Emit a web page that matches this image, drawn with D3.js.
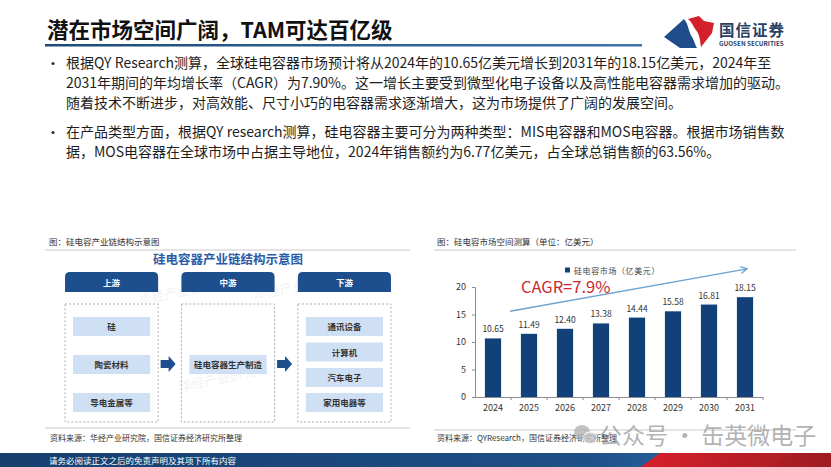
<!DOCTYPE html>
<html>
<head>
<meta charset="utf-8">
<script src="https://cdn.jsdelivr.net/npm/d3@7/dist/d3.min.js"></script>
<style>
  html, body { margin: 0; padding: 0; background: #fff; }
  svg { display: block; }
  text { font-family: "Microsoft YaHei", "Noto Sans CJK SC", "Noto Sans", sans-serif; }
</style>
</head>
<body>
<div id="slide"></div>
<script>
// ---- data ----
var years = ["2024", "2025", "2026", "2027", "2028", "2029", "2030", "2031"];
var marketValues = [10.65, 11.49, 12.40, 13.38, 14.44, 15.58, 16.81, 18.15];
var yTicks = [0, 5, 10, 15, 20];
var legendLabel = "硅电容市场（亿美元）";
var cagrLabel = "CAGR=7.9%";

var slideTitle = "潜在市场空间广阔，TAM可达百亿级";
var bullets = [
  ["根据QY Research测算，全球硅电容器市场预计将从2024年的10.65亿美元增长到2031年的18.15亿美元，2024年至",
   "2031年期间的年均增长率（CAGR）为7.90%。这一增长主要受到微型化电子设备以及高性能电容器需求增加的驱动。",
   "随着技术不断进步，对高效能、尺寸小巧的电容器需求逐渐增大，这为市场提供了广阔的发展空间。"],
  ["在产品类型方面，根据QY research测算，硅电容器主要可分为两种类型：MIS电容器和MOS电容器。根据市场销售数",
   "据，MOS电容器在全球市场中占据主导地位，2024年销售额约为6.77亿美元，占全球总销售额的63.56%。"]
];

var stages = ["上游", "中游", "下游"];
var stageItems = [
  ["硅", "陶瓷材料", "导电金属等"],
  ["硅电容器生产制造"],
  ["通讯设备", "计算机", "汽车电子", "家用电器等"]
];

var W = 831, H = 467;
var navy = "#12417a";

var svg = d3.select("#slide").append("svg")
    .attr("width", W)
    .attr("height", H);

var defs = svg.append("defs");
var lineGrad = defs.append("linearGradient").attr("id", "titleLine");
lineGrad.append("stop").attr("offset", "0%").attr("stop-color", "#1c4a78");
lineGrad.append("stop").attr("offset", "100%").attr("stop-color", "#3d74a8");
var footGrad = defs.append("linearGradient").attr("id", "footBlue");
footGrad.append("stop").attr("offset", "0%").attr("stop-color", "#163f6e");
footGrad.append("stop").attr("offset", "70%").attr("stop-color", "#1d4f86");
footGrad.append("stop").attr("offset", "100%").attr("stop-color", "#3b78bb");
var redGrad = defs.append("linearGradient").attr("id", "footRed");
redGrad.append("stop").attr("offset", "0%").attr("stop-color", "#d8202a");
redGrad.append("stop").attr("offset", "100%").attr("stop-color", "#9c1c22");

// ---- header ----
svg.append("text")
    .attr("x", 47).attr("y", 37.5)
    .attr("font-size", 21.5).attr("font-weight", "bold").attr("fill", "#111")
    .text(slideTitle);
svg.append("rect")
    .attr("x", 45).attr("y", 44).attr("width", 597).attr("height", 2.5)
    .attr("fill", "url(#titleLine)");

// logo
var logo = svg.append("g");
logo.append("path")
    .attr("d", "M664,37 L684,19 C689,25 688,31 692,37 C695,42 695,45 697,48 L680,48 Z")
    .attr("fill", "#1f4d8c");
logo.append("path")
    .attr("d", "M688,19 L699,16 L704,21 L714,23 L712,33 L701,47 C700,41 700,35 696,30 C692,25 692,22 688,19 Z")
    .attr("fill", "#d3202b");
logo.append("text")
    .attr("x", 719).attr("y", 36)
    .attr("font-size", 15.5).attr("font-weight", "bold").attr("fill", "#2c3f66")
    .attr("letter-spacing", 1)
    .text("国信证券");
logo.append("text")
    .attr("x", 719).attr("y", 46)
    .attr("font-size", 6.3).attr("font-weight", "bold").attr("fill", "#2c3f66")
    .attr("font-family", "Liberation Sans, Arial, sans-serif")
    .text("GUOSEN SECURITIES");

// ---- bullets ----
var lineY = [[68, 88, 108], [137, 157]];
bullets.forEach(function (lines, i) {
  svg.append("circle")
      .attr("cx", 53).attr("cy", lineY[i][0] - 4.5).attr("r", 1.6)
      .attr("fill", "#333");
  lines.forEach(function (t, j) {
    svg.append("text")
        .attr("x", 66).attr("y", lineY[i][j])
        .attr("font-size", 14).attr("fill", "#1e1e1e")
        .text(t);
  });
});

// ---- left panel: industry chain diagram ----
var left = svg.append("g");
left.append("text")
    .attr("x", 49).attr("y", 245)
    .attr("font-size", 8.5).attr("fill", "#333")
    .text("图：硅电容产业链结构示意图");
left.append("line")
    .attr("x1", 45).attr("x2", 410).attr("y1", 250).attr("y2", 250)
    .attr("stroke", "#c8c8c8").attr("stroke-width", 1);

// faint watermarks
[[140, 305], [180, 392], [255, 300]].forEach(function (p) {
  left.append("text")
      .attr("x", p[0]).attr("y", p[1])
      .attr("transform", "rotate(-12," + p[0] + "," + p[1] + ")")
      .attr("font-size", 13).attr("fill", "#9bb0c8").attr("opacity", 0.15)
      .text("华经产业研究院");
});

left.append("text")
    .attr("x", 228).attr("y", 264)
    .attr("text-anchor", "middle")
    .attr("font-size", 12.5).attr("font-weight", "bold").attr("fill", "#2a5ca8")
    .text("硅电容器产业链结构示意图");

var colX = d3.scaleBand().domain(stages).range([65, 391]).paddingInner(0.2);

stages.forEach(function (s, i) {
  var x0 = colX(s), w = colX.bandwidth();
  // header tab with rounded top corners
  left.append("path")
      .attr("d", "M" + x0 + ",292 L" + x0 + ",277 Q" + x0 + ",272 " + (x0 + 5) + ",272 L" +
            (x0 + w - 5) + ",272 Q" + (x0 + w) + ",272 " + (x0 + w) + ",277 L" + (x0 + w) + ",292 Z")
      .attr("fill", "#1d4f8e");
  left.append("text")
      .attr("x", x0 + w / 2).attr("y", 285.5)
      .attr("text-anchor", "middle")
      .attr("font-size", 8.5).attr("font-weight", "bold").attr("fill", "#fff")
      .text(s);
  left.append("rect")
      .attr("x", x0).attr("y", 304).attr("width", w).attr("height", 118)
      .attr("fill", "none").attr("stroke", "#9a9a9a")
      .attr("stroke-width", 0.8).attr("stroke-dasharray", "2,2");

  var items = stageItems[i];
  var slotY;
  if (items.length === 3) slotY = [317, 355, 393];
  else if (items.length === 1) slotY = [355];
  else slotY = [317, 342.5, 368, 393];
  items.forEach(function (t, j) {
    left.append("rect")
        .attr("x", x0 + 8).attr("y", slotY[j]).attr("width", w - 16).attr("height", 19)
        .attr("fill", "#cfe0f5");
    left.append("text")
        .attr("x", x0 + w / 2).attr("y", slotY[j] + 13)
        .attr("text-anchor", "middle")
        .attr("font-size", 8.5).attr("font-weight", "bold").attr("fill", "#333")
        .text(t);
  });

  if (i < stages.length - 1) {
    var ax = x0 + w + 2.5, ay = 364;
    left.append("path")
        .attr("d", "M" + ax + "," + (ay - 4) + " L" + (ax + 8) + "," + (ay - 4) + " L" + (ax + 8) + "," + (ay - 8) +
              " L" + (ax + 15) + "," + ay + " L" + (ax + 8) + "," + (ay + 8) + " L" + (ax + 8) + "," + (ay + 4) +
              " L" + ax + "," + (ay + 4) + " Z")
        .attr("fill", "#1d4f8e");
  }
});

left.append("line")
    .attr("x1", 45).attr("x2", 410).attr("y1", 428).attr("y2", 428)
    .attr("stroke", "#c8c8c8").attr("stroke-width", 1);
left.append("text")
    .attr("x", 50).attr("y", 441)
    .attr("font-size", 8).attr("fill", "#333")
    .text("资料来源：华经产业研究院，国信证券经济研究所整理");

// ---- right panel: bar chart ----
var right = svg.append("g");
right.append("text")
    .attr("x", 437).attr("y", 245)
    .attr("font-size", 8.5).attr("fill", "#333")
    .text("图：硅电容市场空间测算（单位：亿美元）");
right.append("line")
    .attr("x1", 434).attr("x2", 796).attr("y1", 250).attr("y2", 250)
    .attr("stroke", "#c8c8c8").attr("stroke-width", 1);

var x = d3.scaleBand().domain(years).range([475, 763]).paddingInner(0.55).paddingOuter(0.275);
var y = d3.scaleLinear().domain([0, 20]).range([397, 287]);

var yAxis = right.append("g")
    .attr("transform", "translate(475,0)")
    .call(d3.axisLeft(y).tickValues(yTicks).tickSize(3).tickPadding(6));
yAxis.selectAll("text")
    .attr("font-family", "Liberation Sans, Arial, sans-serif")
    .attr("font-size", 9).attr("fill", "#333");
yAxis.selectAll("line, path").attr("stroke", "#8c8c8c");

var xAxis = right.append("g")
    .attr("transform", "translate(0,397)")
    .call(d3.axisBottom(x).tickSize(0).tickPadding(8));
xAxis.selectAll("text")
    .attr("font-family", "Liberation Sans, Arial, sans-serif")
    .attr("font-size", 9).attr("fill", "#333");
xAxis.select("path").attr("stroke", "#8c8c8c");
// small ticks at category boundaries
xAxis.selectAll(".bound")
    .data(years)
    .enter().append("line")
    .attr("class", "bound")
    .attr("x1", function (d) { return x(d) + x.bandwidth() / 2 + x.step() / 2; })
    .attr("x2", function (d) { return x(d) + x.bandwidth() / 2 + x.step() / 2; })
    .attr("y1", 0).attr("y2", 3)
    .attr("stroke", "#8c8c8c");

var barData = years.map(function (yr, i) { return { year: yr, value: marketValues[i] }; });

right.selectAll(".bar")
    .data(barData)
    .enter().append("rect")
    .attr("class", "bar")
    .attr("x", function (d) { return x(d.year); })
    .attr("width", x.bandwidth())
    .attr("y", function (d) { return y(d.value); })
    .attr("height", function (d) { return y(0) - y(d.value); })
    .attr("fill", navy);

right.selectAll(".bar-label")
    .data(barData)
    .enter().append("text")
    .attr("class", "bar-label")
    .attr("x", function (d) { return x(d.year) + x.bandwidth() / 2; })
    .attr("y", function (d) { return y(d.value) - 6; })
    .attr("text-anchor", "middle")
    .attr("font-family", "DejaVu Sans Mono, Liberation Mono, monospace")
    .attr("font-size", 8.5).attr("fill", "#333")
    .text(function (d) { return d.value.toFixed(2); });

// legend
right.append("rect")
    .attr("x", 565).attr("y", 267.5).attr("width", 5).attr("height", 5)
    .attr("fill", navy);
right.append("text")
    .attr("x", 574).attr("y", 274)
    .attr("font-size", 8).attr("letter-spacing", 0.6).attr("fill", "#444")
    .text(legendLabel);

// growth arrow
var ax0 = x("2024") + x.bandwidth() + 9, ay0 = y(15.6);
var ax1 = x("2031") + x.bandwidth() / 2 + 2, ay1 = y(23.3);
right.append("line")
    .attr("x1", ax0).attr("y1", ay0).attr("x2", ax1).attr("y2", ay1)
    .attr("stroke", "#6ea3cf").attr("stroke-width", 1.4);
var ang = Math.atan2(ay1 - ay0, ax1 - ax0);
function pt(len, da) {
  return [ax1 - len * Math.cos(ang + da), ay1 - len * Math.sin(ang + da)];
}
right.append("polyline")
    .attr("points", [pt(7, 0.5), [ax1, ay1], pt(7, -0.5)].map(function (p) { return p.join(","); }).join(" "))
    .attr("fill", "none").attr("stroke", "#6ea3cf").attr("stroke-width", 1.4);

right.append("text")
    .attr("x", x("2025")).attr("y", y(19.0))
    .attr("font-family", "Liberation Sans, Arial, sans-serif")
    .attr("font-size", 16.5).attr("fill", "#c8282e")
    .text(cagrLabel);

right.append("line")
    .attr("x1", 434).attr("x2", 796).attr("y1", 430).attr("y2", 430)
    .attr("stroke", "#c8c8c8").attr("stroke-width", 1);
right.append("text")
    .attr("x", 437).attr("y", 441)
    .attr("font-size", 8).attr("fill", "#333")
    .text("资料来源：QYResearch，国信证券经济研究所整理");

// ---- footer ----
svg.append("rect")
    .attr("x", 0).attr("y", 453).attr("width", W).attr("height", H - 453)
    .attr("fill", "url(#footBlue)");
svg.append("path")
    .attr("d", "M641,467 L660,453 L831,453 L831,467 Z")
    .attr("fill", "url(#footRed)");
svg.append("path")
    .attr("d", "M740,467 L759,453 L790,453 L771,467 Z")
    .attr("fill", "#b81f27").attr("opacity", 0.6);
svg.append("text")
    .attr("x", 49).attr("y", 463.5)
    .attr("font-size", 8.5).attr("fill", "#fff")
    .text("请务必阅读正文之后的免责声明及其项下所有内容");

// ---- overlay watermark ----
var wm = svg.append("g").attr("opacity", 0.75);
wm.append("ellipse").attr("cx", 582).attr("cy", 432).attr("rx", 8).attr("ry", 7).attr("fill", "#b0b0b0");
wm.append("ellipse").attr("cx", 590).attr("cy", 438).attr("rx", 7).attr("ry", 6).attr("fill", "#c4c4c4")
    .attr("stroke", "#fff").attr("stroke-width", 1);
wm.append("text")
    .attr("x", 599).attr("y", 444)
    .attr("font-size", 23).attr("fill", "#9a9a9a")
    .text("公众号 · 缶英微电子");
</script>
</body>
</html>
